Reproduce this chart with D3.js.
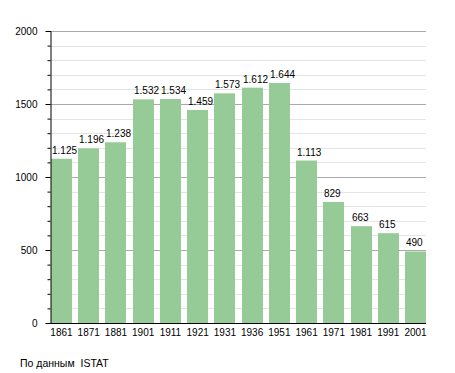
<!DOCTYPE html>
<html><head><meta charset="utf-8">
<script src="https://cdn.jsdelivr.net/npm/d3@7"></script>
<style>body{margin:0;background:#fff}svg{display:block}text{font-family:"Liberation Sans",Arial,sans-serif}</style>
</head><body><svg id="c" width="455" height="373"></svg>
<script>
const years = ["1861","1871","1881","1901","1911","1921","1931","1936","1951","1961","1971","1981","1991","2001"];
const population = [1125,1196,1238,1532,1534,1459,1573,1612,1644,1113,829,663,615,490];
const yTicks = [0,500,1000,1500,2000];
const sourceText = "По данным  ISTAT";

(function(){
const svg = d3.select("#c");
const mL = 50, mR = 426, mT = 31, mB = 323;
const FONT = '"Liberation Sans",Arial,sans-serif';
const x = d3.scaleBand().domain(years).range([mL + 1, mR]).paddingInner(0.23).paddingOuter(0);
const y = d3.scaleLinear().domain([0, 2000]).range([mB, mT]);
const fmt = v => d3.format(",")(v).replace(/,/g, ".");

svg.append("g").selectAll("line").data(d3.range(100, 2001, 100).filter(v => v % 500 !== 0))
  .join("line").attr("x1", mL).attr("x2", mR).attr("y1", d => Math.round(y(d))+0.5).attr("y2", d => Math.round(y(d))+0.5)
  .attr("stroke", "#e4e4e4").attr("stroke-width", 1);
svg.append("g").selectAll("line").data(yTicks.filter(v => v > 0))
  .join("line").attr("x1", mL).attr("x2", mR).attr("y1", d => Math.round(y(d))+0.5).attr("y2", d => Math.round(y(d))+0.5)
  .attr("stroke", "#aaaaaa").attr("stroke-width", 1);

svg.append("g").selectAll("rect").data(years).join("rect")
  .attr("x", d => Math.round(x(d))).attr("width", Math.round(x.bandwidth()))
  .attr("y", (d,i) => y(population[i])).attr("height", (d,i) => mB - y(population[i]))
  .attr("fill", "#96ca96");

svg.append("g").selectAll("text").data(years).join("text")
  .attr("x", d => Math.round(x(d)) + 1).attr("y", (d,i) => y(population[i]) - 5)
  .attr("font-size", 10).attr("fill", "#000")
  .text((d,i) => fmt(population[i]));

const yAxis = d3.axisLeft(y).tickValues(d3.range(0, 2001, 100)).tickSize(3).tickFormat(d => yTicks.includes(d) ? d : "");
const gy = svg.append("g").attr("transform", `translate(${mL+0.5},0)`).call(yAxis);
gy.select(".domain").attr("stroke", "#000");
gy.selectAll(".tick line").attr("stroke", "#000").attr("x2", d => yTicks.includes(d) ? -5 : -3);
gy.selectAll(".tick text").attr("font-size", 10).attr("font-family", FONT).attr("x", -13).attr("fill", "#000");

const gx = svg.append("g").attr("transform", `translate(0,${mB+0.5})`)
  .call(d3.axisBottom(x).tickSize(0).tickSizeOuter(0));
gx.select(".domain").attr("stroke", "#000").attr("d", `M${mL},0H${mR}`);
gx.selectAll(".tick text").attr("font-size", 10).attr("font-family", FONT).attr("dy", 0).attr("y", 12.5).attr("fill", "#000");

svg.append("text").attr("x", 20).attr("y", 367).attr("font-size", 10.5).attr("fill", "#000")
  .style("white-space", "pre").text(sourceText);
})();
</script></body></html>
